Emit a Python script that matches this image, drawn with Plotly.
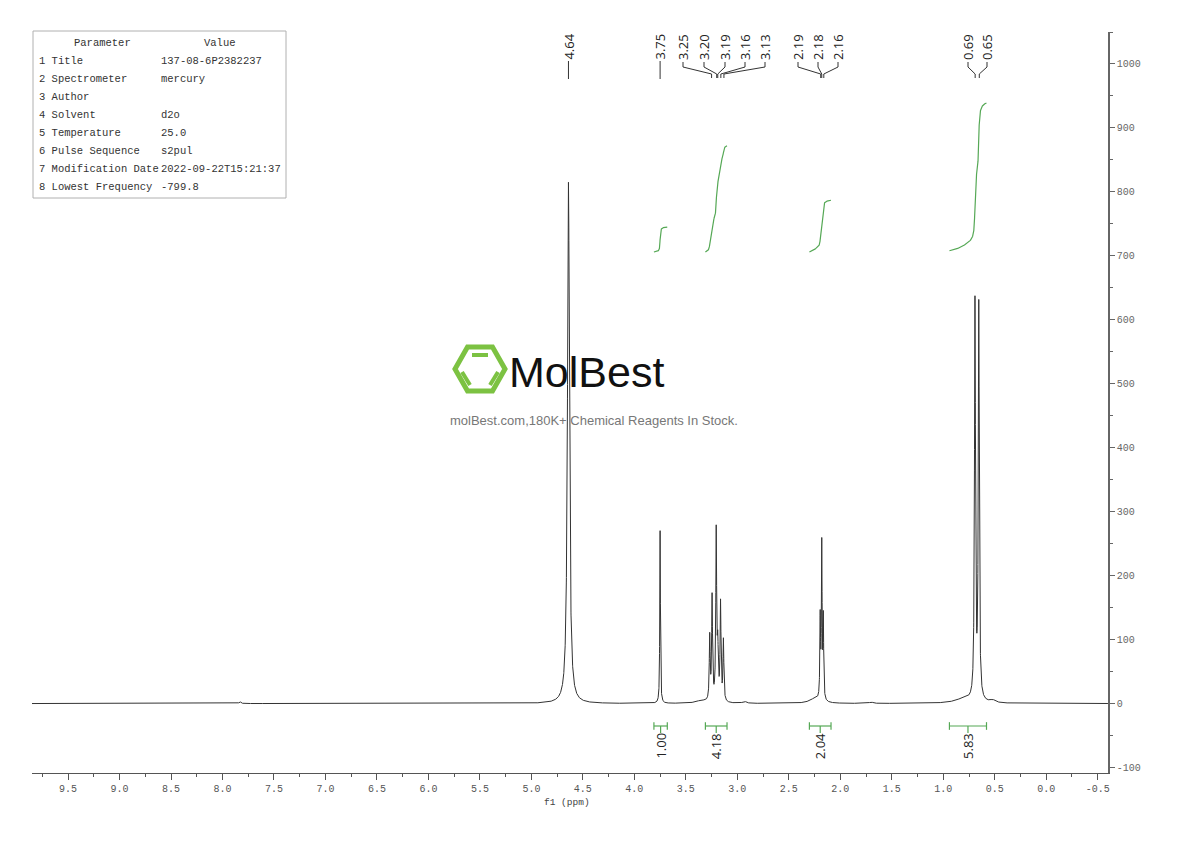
import numpy as np
import plotly.graph_objects as go

# ---------------- data ----------------
peak_ppm = [7.83, 4.64, 3.75, 3.268, 3.245, 3.205, 3.19, 3.163, 3.135,
            2.195, 2.18, 2.165, 0.692, 0.655,
            3.35, 2.93, 2.25, 1.70, 0.80, 0.52]
peak_height = [3, 815, 270, 100, 162, 262, 80, 152, 95,
               125, 240, 125, 620, 615,
               4, 3, 7, 2, 7, 4]
peak_width = [0.01, 0.0113, 0.0035, 0.005, 0.005, 0.005, 0.006, 0.005, 0.005,
              0.004, 0.004, 0.004, 0.0057, 0.0057,
              0.06, 0.02, 0.06, 0.02, 0.1, 0.03]

peak_labels = [["4.64"], ["3.75"], ["3.25", "3.20", "3.19", "3.16", "3.13"],
               ["2.19", "2.18", "2.16"], ["0.69", "0.65"]]
peak_label_ppm = [[4.64], [3.75], [3.25, 3.20, 3.19, 3.16, 3.13],
                  [2.19, 2.18, 2.16], [0.69, 0.65]]

integral_ranges = [(3.81, 3.68), (3.31, 3.10), (2.30, 2.09), (0.94, 0.58)]
integral_values = ["1.00", "4.18", "2.04", "5.83"]
integral_levels = [(706, 745), (706, 872), (706, 787), (708, 939)]

x_tick_vals = [9.5, 9.0, 8.5, 8.0, 7.5, 7.0, 6.5, 6.0, 5.5, 5.0, 4.5, 4.0,
               3.5, 3.0, 2.5, 2.0, 1.5, 1.0, 0.5, 0.0, -0.5]
x_tick_text = ["9.5", "9.0", "8.5", "8.0", "7.5", "7.0", "6.5", "6.0", "5.5",
               "5.0", "4.5", "4.0", "3.5", "3.0", "2.5", "2.0", "1.5", "1.0",
               "0.5", "0.0", "-0.5"]
y_tick_vals = [-100, 0, 100, 200, 300, 400, 500, 600, 700, 800, 900, 1000]
y_tick_text = ["-100", "0", "100", "200", "300", "400", "500", "600", "700",
               "800", "900", "1000"]

table_params = ["1 Title", "2 Spectrometer", "3 Author", "4 Solvent",
                "5 Temperature", "6 Pulse Sequence", "7 Modification Date",
                "8 Lowest Frequency"]
table_values = ["137-08-6P2382237", "mercury", "", "d2o", "25.0", "s2pul",
                "2022-09-22T15:21:37", "-799.8"]

# ---------------- layout helpers (screen pixels) ----------------
OFF = 8                      # page body margin
W, H = 1190 - OFF, 841 - OFF
L, R, T, B = 32, 1108, 32, 773
X0, X1 = 9.85, -0.6
Y0, Y1 = -108.6, 1050


def ppm_px(px):
    return X0 + (px - L) / (R - L) * (X1 - X0)


def val_py(py):
    return Y1 + (py - T) / (B - T) * (Y0 - Y1)


def pap_x(px):
    return (px - L) / (R - L)


def pap_y(py):
    return (B - py) / (B - T)


# ---------------- spectrum ----------------
x = np.arange(X0, X1, -0.0005)
y = np.zeros_like(x)
for c, h, g in zip(peak_ppm, peak_height, peak_width):
    y += h / (1 + ((x - c) / g) ** 2)

fig = go.Figure()
fig.add_trace(go.Scatter(x=np.round(x, 5), y=np.round(y, 2), mode="lines",
                         line=dict(color="#333333", width=1),
                         hoverinfo="skip", showlegend=False))

GREEN = "#55a855"
shapes = []
annotations = []

# integral curves and brackets
for (hi, lo), val, (ya, yb) in zip(integral_ranges, integral_values, integral_levels):
    m = (x <= hi) & (x >= lo)
    xs = x[m]
    cs = np.cumsum(y[m])
    cs = (cs - cs[0]) / (cs[-1] - cs[0])
    fig.add_trace(go.Scatter(x=np.round(xs, 5), y=np.round(ya + cs * (yb - ya), 2),
                             mode="lines", line=dict(color=GREEN, width=1.2),
                             hoverinfo="skip", showlegend=False))
    yb_ = val_py(726)
    cap = 6
    shapes.append(dict(type="line", xref="x", yref="y", x0=hi, x1=lo, y0=yb_, y1=yb_,
                       line=dict(color=GREEN, width=1.2)))
    for xe in (hi, lo):
        shapes.append(dict(type="line", xref="x", yref="y", x0=xe, x1=xe,
                           y0=yb_ - cap, y1=yb_ + cap, line=dict(color=GREEN, width=1.2)))
    xm = (hi + lo) / 2
    shapes.append(dict(type="line", xref="x", yref="y", x0=xm, x1=xm,
                       y0=yb_, y1=val_py(733), line=dict(color=GREEN, width=1.2)))
    annotations.append(dict(x=xm, y=val_py(746), xref="x", yref="y", text=val,
                            textangle=-90, showarrow=False,
                            font=dict(family="Open Sans", size=13, color="#222222"),
                            xanchor="center", yanchor="middle"))

# peak labels
label_px_sets = [[568.6], [659.5], [683, 704, 725, 745, 765], [798, 818, 838], [968, 987]]
for labs, ppms, lpx in zip(peak_labels, peak_label_ppm, label_px_sets):
    for lab, p, lx in zip(labs, ppms, lpx):
        annotations.append(dict(x=ppm_px(lx), y=val_py(47), xref="x", yref="y",
                                text=lab, textangle=-90, showarrow=False,
                                font=dict(family="Open Sans", size=13, color="#222222"),
                                xanchor="center", yanchor="middle"))
        if len(labs) == 1:
            shapes.append(dict(type="line", xref="x", yref="y", x0=p, x1=p,
                               y0=val_py(61), y1=val_py(79),
                               line=dict(color="#333333", width=1)))
        else:
            lp = ppm_px(lx)
            shapes.append(dict(type="path", xref="x", yref="y",
                               path=f"M {lp},{val_py(62)} L {lp},{val_py(67)} "
                                    f"L {p},{val_py(74)} L {p},{val_py(78)}",
                               line=dict(color="#333333", width=1)))

# parameter table
shapes.append(dict(type="rect", xref="paper", yref="paper",
                   x0=pap_x(33), x1=pap_x(286), y0=pap_y(198), y1=pap_y(31),
                   line=dict(color="#b0b0b0", width=1)))
TF = dict(family="Liberation Mono", size=10.5, color="#333333")
annotations.append(dict(x=pap_x(102), y=pap_y(43), xref="paper", yref="paper",
                        text="Parameter", showarrow=False, font=TF,
                        xanchor="center", yanchor="middle"))
annotations.append(dict(x=pap_x(220), y=pap_y(43), xref="paper", yref="paper",
                        text="Value", showarrow=False, font=TF,
                        xanchor="center", yanchor="middle"))
for i, (pn, pv) in enumerate(zip(table_params, table_values)):
    yy = pap_y(61 + 18 * i)
    annotations.append(dict(x=pap_x(37), y=yy, xref="paper", yref="paper", text=pn,
                            showarrow=False, font=TF, xanchor="left", yanchor="middle"))
    if pv:
        annotations.append(dict(x=pap_x(159), y=yy, xref="paper", yref="paper", text=pv,
                                showarrow=False, font=TF, xanchor="left", yanchor="middle"))

# x-axis title
annotations.append(dict(x=pap_x(567), y=pap_y(802), xref="paper", yref="paper",
                        text="f1 (ppm)", showarrow=False,
                        font=dict(family="Liberation Mono", size=9.5, color="#444444"),
                        xanchor="center", yanchor="middle"))

# watermark logo
LOGO = "#7cc242"
cx, cy, Rr = 480, 369, 25
hx = [cx + Rr, cx + Rr / 2, cx - Rr / 2, cx - Rr, cx - Rr / 2, cx + Rr / 2]
hy = [cy, cy - 22, cy - 22, cy, cy + 22, cy + 22]
hp = "M " + " L ".join(f"{pap_x(a)},{pap_y(b)}" for a, b in zip(hx, hy)) + " Z"
shapes.append(dict(type="path", xref="paper", yref="paper", path=hp,
                   line=dict(color=LOGO, width=5)))
for (ax_, ay_, bx_, by_) in [(472, 355, 488, 355), (462, 372, 470, 385), (498, 372, 490, 385)]:
    shapes.append(dict(type="line", xref="paper", yref="paper",
                       x0=pap_x(ax_), y0=pap_y(ay_), x1=pap_x(bx_), y1=pap_y(by_),
                       line=dict(color=LOGO, width=4)))
annotations.append(dict(x=pap_x(586), y=pap_y(372), xref="paper", yref="paper",
                        text="MolBest", showarrow=False,
                        font=dict(family="Liberation Sans", size=43, color="#111111"),
                        xanchor="center", yanchor="middle"))
annotations.append(dict(x=pap_x(594), y=pap_y(421), xref="paper", yref="paper",
                        text="molBest.com,180K+ Chemical Reagents In Stock.", showarrow=False,
                        font=dict(family="Liberation Sans", size=13, color="#777777"),
                        xanchor="center", yanchor="middle"))

fig.update_layout(
    width=W, height=H,
    margin=dict(l=L - OFF, r=W + OFF - R, t=T - OFF, b=H + OFF - B),
    paper_bgcolor="white", plot_bgcolor="white",
    shapes=shapes, annotations=annotations,
    xaxis=dict(range=[X0, X1], autorange=False, showgrid=False, zeroline=False,
               showline=True, linecolor="#555555", linewidth=1,
               tickmode="array", tickvals=x_tick_vals, ticktext=x_tick_text,
               ticks="outside", ticklen=6, tickcolor="#555555",
               minor=dict(tickmode="array",
                          tickvals=[v + 0.25 for v in x_tick_vals] + [-0.25],
                          ticks="outside", ticklen=3, tickcolor="#555555"),
               tickfont=dict(family="Liberation Mono", size=10, color="#555555")),
    yaxis=dict(range=[Y0, Y1], autorange=False, side="right", showgrid=False,
               zeroline=False, showline=True, linecolor="#666666", linewidth=1.5,
               tickmode="array", tickvals=y_tick_vals, ticktext=y_tick_text,
               ticks="outside", ticklen=5, tickcolor="#666666",
               minor=dict(tickmode="array",
                          tickvals=[v + 50 for v in y_tick_vals],
                          ticks="outside", ticklen=3, tickcolor="#666666"),
               tickfont=dict(family="Liberation Mono", size=10, color="#666666")),
)

fig.write_html("out.html")
